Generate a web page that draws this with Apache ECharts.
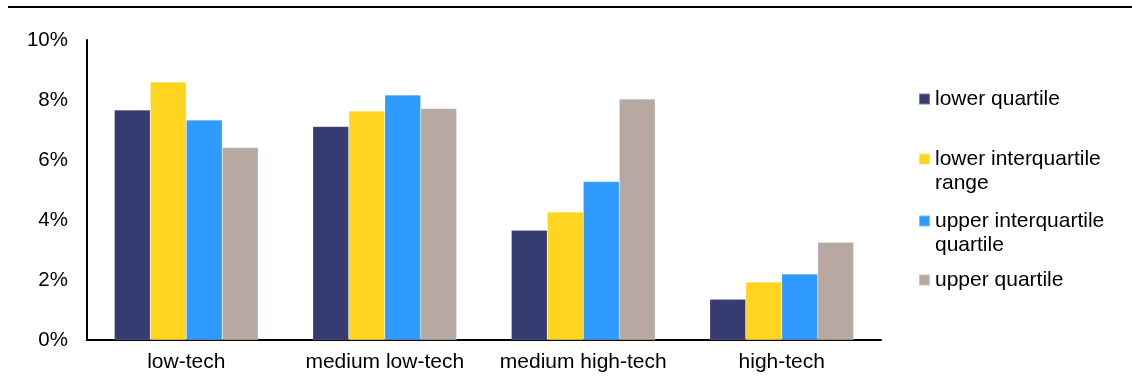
<!DOCTYPE html>
<html>
<head>
<meta charset="utf-8">
<script src="https://cdn.jsdelivr.net/npm/echarts@6/dist/echarts.min.js"></script>
<style>
  html, body { margin: 0; padding: 0; background: #fff; }
  #chart { width: 1132px; height: 383px; }
</style>
</head>
<body>
<div id="chart"></div>
<script>
// Employment change by technology intensity, split by quartile groups
const categories = ['low-tech', 'medium low-tech', 'medium high-tech', 'high-tech'];
const seriesNames = ['lower quartile', 'lower interquartile range', 'upper interquartile quartile', 'upper quartile'];
const lowerQuartile = [0.0767, 0.0712, 0.0366, 0.0136];
const lowerInterquartile = [0.0860, 0.0763, 0.0427, 0.0193];
const upperInterquartile = [0.0733, 0.0817, 0.0528, 0.0220];
const upperQuartile = [0.0642, 0.0772, 0.0803, 0.0326];
const yTicks = [0, 0.02, 0.04, 0.06, 0.08, 0.10];

const colors = ['#363B71', '#FFD520', '#2F9BFF', '#B7A9A2'];
const values = [lowerQuartile, lowerInterquartile, upperInterquartile, upperQuartile];
const font = 'Liberation Sans, Arial, sans-serif';

// one legend block per entry so each can sit at its own height;
// wrapped labels get a blank leading line so the swatch lines up with the first text line
const legendTops = [87, 123, 185, 268];
const legendLabels = ['lower quartile', ' \nlower interquartile\nrange', ' \nupper interquartile\nquartile', 'upper quartile'];

const chart = echarts.init(document.getElementById('chart'), null, { renderer: 'canvas' });
chart.setOption({
  animation: false,
  color: colors,
  grid: { left: 87, right: 251, top: 40, bottom: 43, containLabel: false },
  xAxis: {
    type: 'category',
    data: categories,
    axisLine: { lineStyle: { color: '#000', width: 2 } },
    axisTick: { show: false },
    axisLabel: { color: '#000', fontSize: 21, fontFamily: font, margin: 12, interval: 0 }
  },
  yAxis: {
    type: 'value',
    min: yTicks[0],
    max: yTicks[yTicks.length - 1],
    interval: yTicks[1] - yTicks[0],
    axisLine: { show: true, lineStyle: { color: '#000', width: 2 } },
    axisTick: { show: false },
    splitLine: { show: false },
    axisLabel: {
      color: '#000', fontSize: 20.5, fontFamily: font, margin: 19,
      formatter: v => Math.round(v * 100) + '%'
    }
  },
  legend: seriesNames.map((name, i) => ({
    data: [name],
    orient: 'vertical',
    left: 918,
    top: legendTops[i],
    padding: 0,
    icon: 'rect',
    itemWidth: 11,
    itemHeight: 11,
    selectedMode: false,
    formatter: () => legendLabels[i],
    textStyle: { color: '#000', fontSize: 21, fontFamily: font, lineHeight: 24 }
  })),
  graphic: [{
    type: 'line',
    shape: { x1: 8, y1: 7, x2: 1132, y2: 7 },
    style: { stroke: '#000', lineWidth: 2 }
  }],
  series: seriesNames.map((name, i) => ({
    name: name,
    type: 'bar',
    data: values[i],
    barGap: '0%',
    barCategoryGap: '27.5%',
    itemStyle: { color: colors[i], borderColor: 'rgba(255,255,255,0.35)', borderWidth: 0.5 }
  }))
});
</script>
</body>
</html>
